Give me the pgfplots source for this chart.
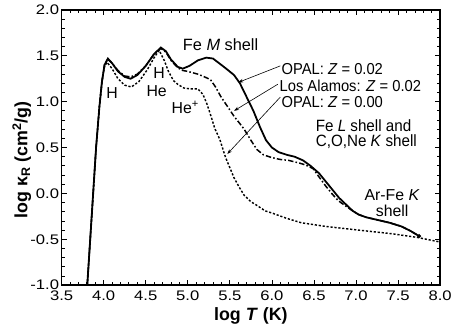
\documentclass[border=0pt]{standalone}
\usepackage{pgfplots}
\pgfplotsset{compat=1.18}
\usepackage{fontspec}
\setmainfont{Liberation Sans}
\newfontfamily\tickfont[FakeStretch=1.2]{Liberation Sans}
\newfontfamily\narrowfont[FakeStretch=0.93]{Liberation Sans}
\usetikzlibrary{arrows.meta}
\begin{document}
\begin{tikzpicture}
\begin{axis}[
  width=381bp, height=277bp, scale only axis,
  xmin=3.5, xmax=8, ymin=-1, ymax=2,
  xtick={3.5,4,4.5,5,5.5,6,6.5,7,7.5,8},
  ytick={-1,-0.5,0,0.5,1,1.5,2},
  minor x tick num=4, minor y tick num=4,
  tick align=inside,
  major tick length=5bp, minor tick length=3bp,
  axis line style={line width=1.4bp},
  every tick/.style={line width=0.8bp, black},
  ticklabel style={font=\tickfont\fontsize{14}{14}\selectfont},
  xticklabel style={yshift=-2bp},
  yticklabel style={xshift=1bp},
  /pgf/number format/.cd, fixed, fixed zerofill, precision=1, assume math mode=true,
  /pgfplots/.cd,
  xlabel={\bfseries log \textit{T} (K)},
  ylabel={\bfseries log κ\textsubscript{R} (cm\textsuperscript{2}/g)},
  label style={font=\fontsize{18}{18}\selectfont},
  xlabel style={at={(axis description cs:0.5,-0.112)}, anchor=center},
  ylabel style={at={(axis description cs:-0.105,0.455)}, anchor=center, rotate=0},
  after end axis/.code={\path (axis description cs:-0.1627,-0.1625) rectangle (axis description cs:1.0315,1.0361);},
]
% OPAL Z=0.00 (dotted)
\addplot[black, line width=1.45pt, dash pattern=on 2.2pt off 1.8pt] coordinates {
(3.805,-1.0)(3.86,-0.22)(3.91,0.50)(3.95,0.95)(3.98,1.22)(4.01,1.38)(4.04,1.43)
(4.10,1.36)(4.17,1.25)(4.25,1.18)(4.33,1.16)(4.42,1.22)(4.52,1.35)(4.60,1.48)
(4.66,1.56)(4.72,1.45)(4.77,1.33)(4.83,1.23)(4.88,1.19)(4.95,1.15)(5.02,1.14)
(5.12,1.14)(5.18,1.08)(5.23,0.97)(5.28,0.83)(5.32,0.71)(5.38,0.59)(5.45,0.39)
(5.50,0.28)(5.55,0.17)(5.61,0.07)(5.67,-0.02)(5.75,-0.09)(5.82,-0.13)(5.92,-0.19)
(6.02,-0.22)(6.17,-0.27)(6.35,-0.32)(6.64,-0.36)(7.03,-0.40)(7.23,-0.42)(7.43,-0.44)
(7.73,-0.48)(8.00,-0.53)};
% Los Alamos Z=0.02 (dash-dot)
\addplot[black, line width=1.5pt, dash pattern=on 5.5pt off 2.2pt on 1.6pt off 2.2pt] coordinates {
(3.805,-1.0)(3.86,-0.22)(3.91,0.50)(3.95,0.95)(3.98,1.22)(4.01,1.40)(4.05,1.46)
(4.10,1.42)(4.17,1.34)(4.25,1.28)(4.32,1.27)(4.40,1.30)(4.50,1.39)(4.60,1.52)
(4.68,1.58)(4.74,1.54)(4.80,1.45)(4.88,1.37)(4.94,1.34)(5.00,1.33)(5.12,1.30)
(5.20,1.27)(5.27,1.24)(5.33,1.16)(5.39,1.06)(5.47,0.95)(5.55,0.84)(5.62,0.76)
(5.67,0.70)(5.75,0.58)(5.82,0.48)(5.90,0.42)(6.00,0.39)(6.10,0.37)(6.20,0.36)
(6.33,0.33)(6.40,0.31)(6.49,0.27)(6.56,0.18)(6.64,0.08)(6.72,-0.01)(6.79,-0.08)
(6.88,-0.14)(6.96,-0.19)(7.03,-0.23)(7.12,-0.26)(7.26,-0.29)(7.40,-0.32)
(7.54,-0.36)(7.65,-0.41)(7.74,-0.46)};
% OPAL Z=0.02 (solid)
\addplot[black, line width=1.8pt] coordinates {
(3.805,-1.0)(3.86,-0.22)(3.91,0.50)(3.95,0.95)(3.98,1.22)(4.01,1.40)(4.05,1.47)
(4.10,1.42)(4.17,1.33)(4.25,1.27)(4.32,1.25)(4.40,1.29)(4.50,1.39)(4.60,1.52)
(4.68,1.59)(4.74,1.55)(4.80,1.46)(4.88,1.38)(4.94,1.36)(5.02,1.39)(5.12,1.45)
(5.22,1.48)(5.30,1.47)(5.40,1.40)(5.47,1.35)(5.55,1.29)(5.62,1.20)(5.70,1.05)
(5.78,0.90)(5.86,0.72)(5.93,0.58)(6.00,0.50)(6.08,0.45)(6.18,0.42)(6.27,0.40)
(6.37,0.36)(6.46,0.30)(6.56,0.22)(6.64,0.13)(6.72,0.04)(6.80,-0.05)(6.88,-0.12)
(6.96,-0.19)(7.03,-0.23)(7.12,-0.26)(7.26,-0.29)(7.40,-0.32)(7.54,-0.36)
(7.65,-0.41)(7.74,-0.46)};
\addplot[only marks, mark=*, mark size=1.9pt, black] coordinates {(7.75,-0.465)};
% annotations
\node[font=\fontsize{16.5}{16.5}\selectfont] at (axis cs:5.39,1.62) {Fe \textit{M} shell};
\node[font=\fontsize{16}{16}\selectfont] at (axis cs:4.10,1.09) {H};
\node[font=\fontsize{16}{16}\selectfont] at (axis cs:4.66,1.31) {H};
\node[font=\fontsize{16}{16}\selectfont] at (axis cs:4.63,1.12) {He};
\node[font=\fontsize{16}{16}\selectfont] at (axis cs:4.97,0.94) {He\textsuperscript{+}};
\node[font=\narrowfont\fontsize{16}{16}\selectfont, anchor=west, inner sep=0pt] at (axis cs:6.114,1.355) {OPAL: \textit{Z} = 0.02};
\node[font=\narrowfont\fontsize{16}{16}\selectfont, anchor=west, inner sep=0pt] at (axis cs:6.09,1.17) {Los Alamos: \textit{Z} = 0.02};
\node[font=\narrowfont\fontsize{16}{16}\selectfont, anchor=west, inner sep=0pt] at (axis cs:6.114,0.995) {OPAL: \textit{Z} = 0.00};
\node[font=\narrowfont\fontsize{16.5}{16}\selectfont, align=left, anchor=west, inner sep=0pt] at (axis cs:6.52,0.647) {Fe \textit{L} shell and\\C,O,Ne \textit{K} shell};
\node[font=\fontsize{16}{16}\selectfont, align=center, inner sep=0pt] at (axis cs:7.43,-0.11) {Ar-Fe \textit{K}\\shell};
\draw[-{Stealth[length=5pt,width=3.5pt]}, line width=0.6pt] (axis cs:6.10,1.39) -- (axis cs:5.60,1.21);
\draw[-{Stealth[length=5pt,width=3.5pt]}, line width=0.6pt] (axis cs:6.07,1.19) -- (axis cs:5.55,0.90);
\draw[-{Stealth[length=5pt,width=3.5pt]}, line width=0.6pt] (axis cs:6.10,1.05) -- (axis cs:5.47,0.43);
\end{axis}
\end{tikzpicture}
\end{document}
